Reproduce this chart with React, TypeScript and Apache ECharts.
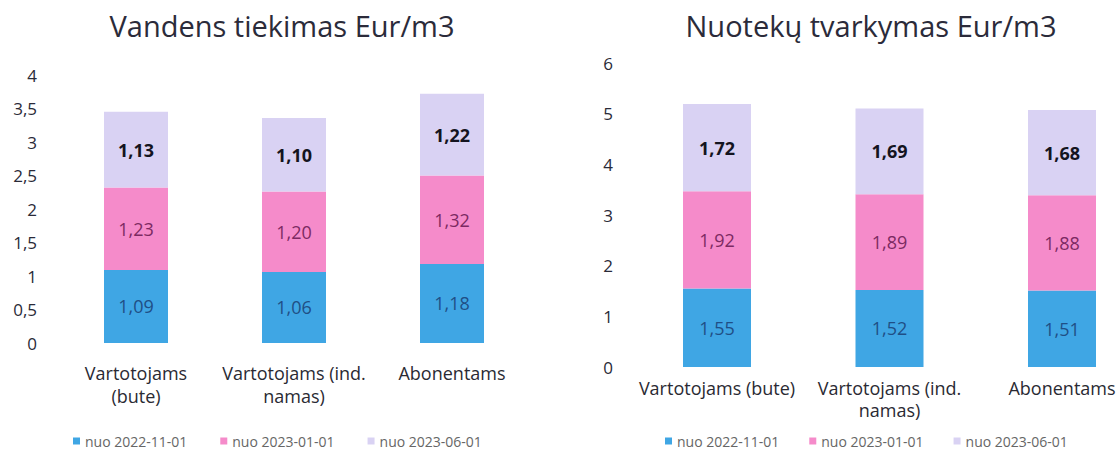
import React, { useEffect, useRef } from "react";
import * as echarts from "echarts";

const seriesNames = ["nuo 2022-11-01", "nuo 2023-01-01", "nuo 2023-06-01"];
const leftTitle = "Vandens tiekimas Eur/m3";
const rightTitle = "Nuotekų tvarkymas Eur/m3";
const leftCategories = ["Vartotojams\n(bute)", "Vartotojams (ind.\nnamas)", "Abonentams"];
const rightCategories = ["Vartotojams (bute)", "Vartotojams (ind.\nnamas)", "Abonentams"];

const water2211 = [1.09, 1.06, 1.18];
const water2301 = [1.23, 1.2, 1.32];
const water2306 = [1.13, 1.1, 1.22];

const sewer2211 = [1.55, 1.52, 1.51];
const sewer2301 = [1.92, 1.89, 1.88];
const sewer2306 = [1.72, 1.69, 1.68];

const colors = ["#3fa6e4", "#f58bca", "#d9d2f3"];
const labelColors = ["#1f4f86", "#7c2a62", "#141420"];
const labelWeights = ["normal", "normal", "bold"];

const FONT = "'Open Sans', 'Noto Sans', sans-serif";

const fmt = (v: number) => String(v).replace(".", ",");
const fmt2 = (v: number) => v.toFixed(2).replace(".", ",");

export default function App() {
  const ref = useRef<HTMLDivElement>(null);
  useEffect(() => {
    if (!ref.current) return;
    const chart = echarts.init(ref.current, null, { renderer: "svg" });
    const leftData = [water2211, water2301, water2306];
    const rightData = [sewer2211, sewer2301, sewer2306];
    const mkSeries = (data: number[][], idx: number, width: number) =>
      data.map((d, i) => ({
        type: "bar",
        name: seriesNames[i],
        stack: "s" + idx,
        xAxisIndex: idx,
        yAxisIndex: idx,
        barWidth: width,
        data: d,
        itemStyle: { color: colors[i] },
        label: {
          show: true,
          position: "inside",
          formatter: (p: any) => fmt2(p.value),
          color: labelColors[i],
          fontWeight: labelWeights[i],
          fontSize: 18,
          fontFamily: FONT,
        },
      }));
    const xAxisBase = (cats: string[], idx: number, margin: number, lh: number, boundaryGap: boolean) => ({
      type: "category",
      gridIndex: idx,
      data: cats,
      boundaryGap,
      axisLine: { show: false },
      axisTick: { show: false },
      axisLabel: {
        interval: 0,
        margin,
        fontSize: 18,
        lineHeight: lh,
        color: "#2a2a33",
        fontFamily: FONT,
      },
    });
    const yAxisBase = (idx: number, max: number, interval: number, margin: number) => ({
      type: "value",
      gridIndex: idx,
      min: 0,
      max,
      interval,
      axisLine: { show: false },
      axisTick: { show: false },
      splitLine: { show: false },
      axisLabel: {
        margin,
        fontSize: 17,
        color: "#2a2a38",
        fontFamily: FONT,
        formatter: (v: number) => fmt(v),
      },
    });
    const legendBase = (left: number, top: number, gap: number) => ({
      data: seriesNames,
      left,
      top,
      padding: 0,
      icon: "rect",
      itemWidth: 7,
      itemHeight: 7,
      itemGap: gap,
      textStyle: { fontSize: 14, color: "#666", fontFamily: FONT },
    });
    chart.setOption({
      animation: false,
      backgroundColor: "#ffffff",
      title: [
        {
          text: leftTitle,
          left: 277,
          top: 6,
          textAlign: "center",
          textStyle: { fontSize: 29, fontWeight: "normal", color: "#2b2b3a", fontFamily: FONT },
        },
        {
          text: rightTitle,
          left: 866,
          top: 6,
          textAlign: "center",
          textStyle: { fontSize: 29, fontWeight: "normal", color: "#2b2b3a", fontFamily: FONT },
        },
      ],
      legend: [legendBase(73, 434, 33), legendBase(665, 434, 30)],
      grid: [
        { left: 57, top: 75, width: 474, height: 268 },
        { left: 717, top: 63, width: 345, height: 304 },
      ],
      xAxis: [
        xAxisBase(leftCategories, 0, 18, 23, true),
        xAxisBase(rightCategories, 1, 10, 22, false),
      ],
      yAxis: [yAxisBase(0, 4, 0.5, 20), yAxisBase(1, 6, 1, 104)],
      series: [...mkSeries(leftData, 0, 64), ...mkSeries(rightData, 1, 68)],
    });
    return () => chart.dispose();
  }, []);
  return (
    <div
      ref={ref}
      style={{ position: "fixed", left: 0, top: 0, width: 1120, height: 451, background: "#fff" }}
    />
  );
}
